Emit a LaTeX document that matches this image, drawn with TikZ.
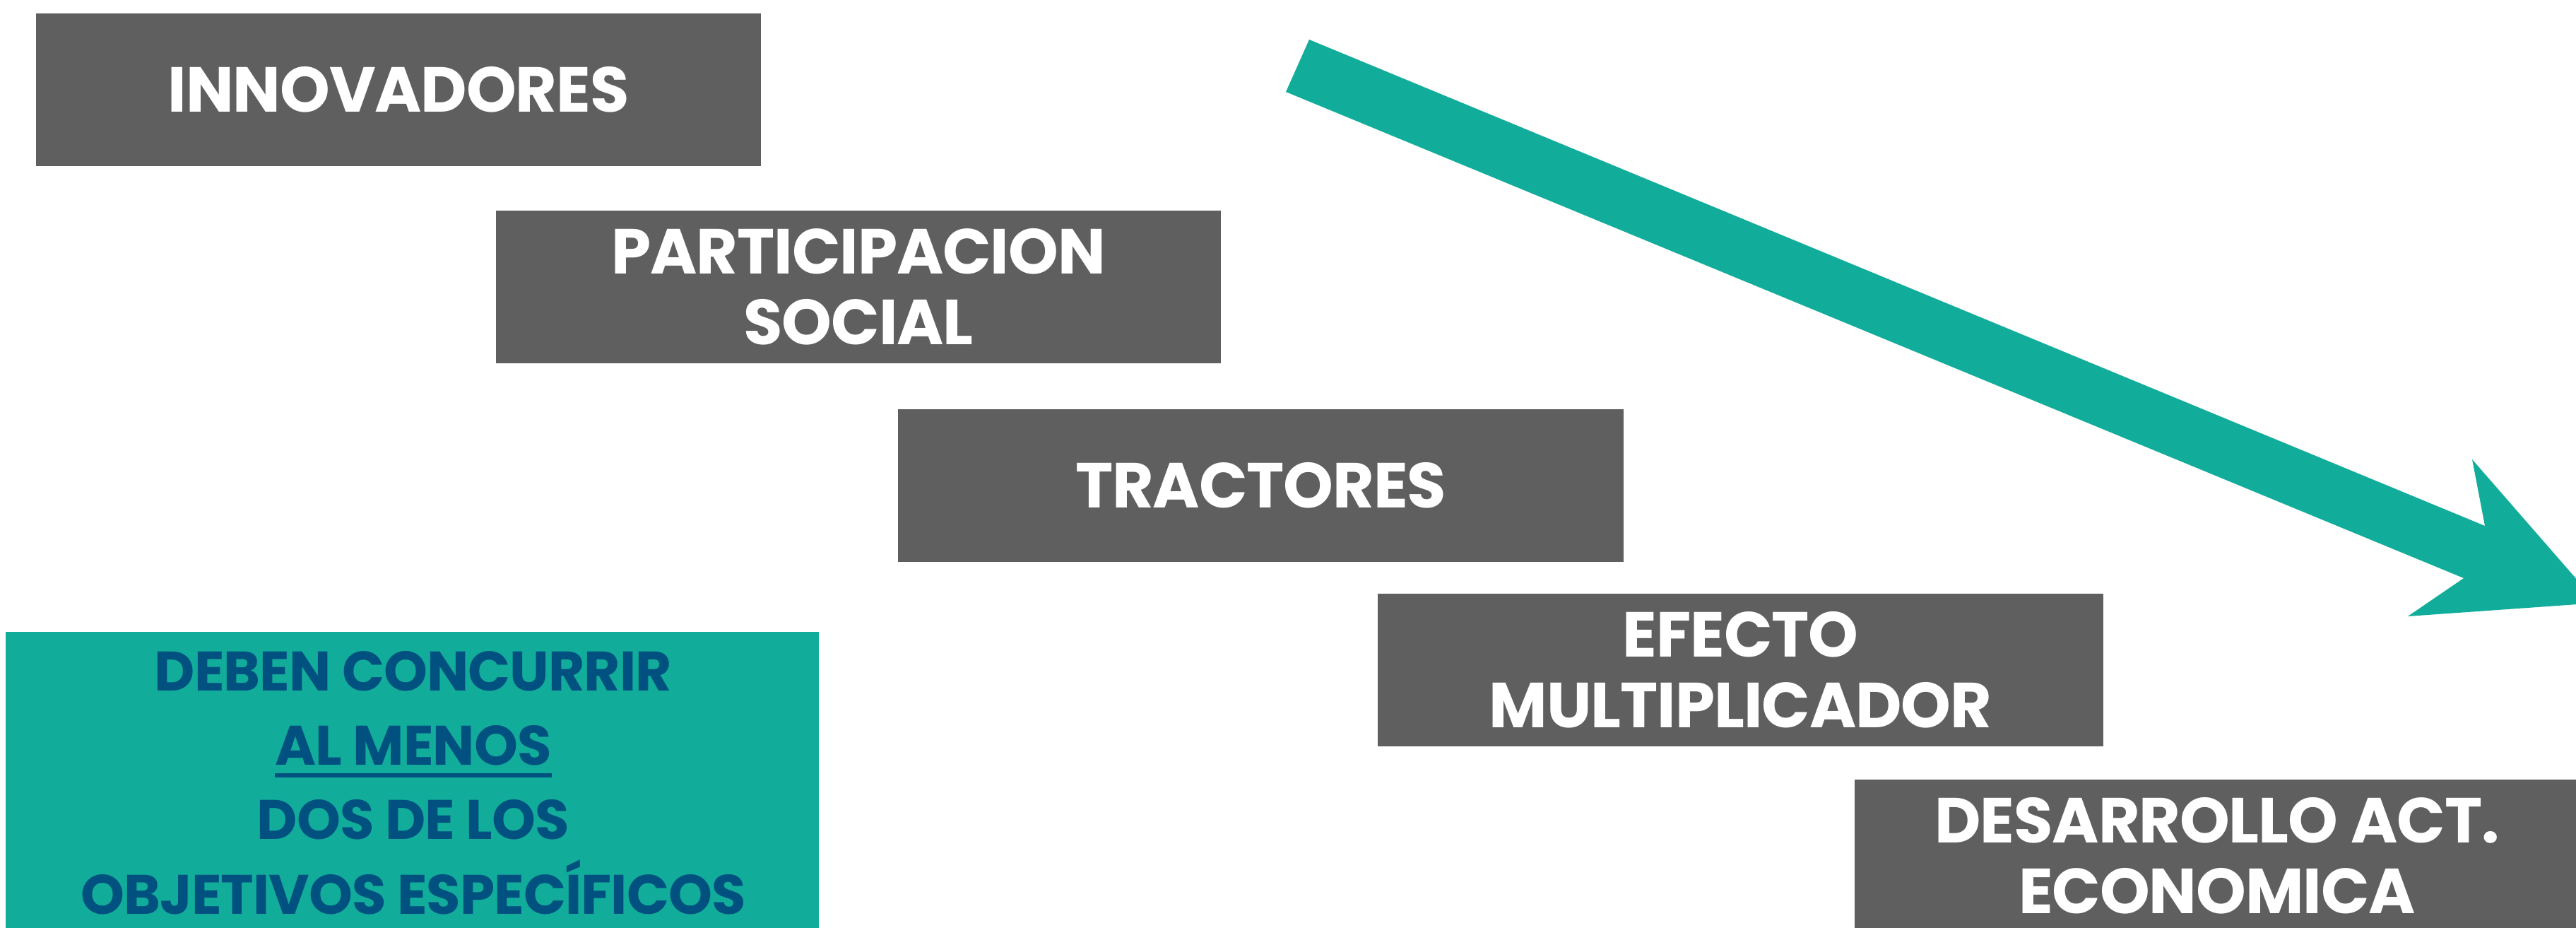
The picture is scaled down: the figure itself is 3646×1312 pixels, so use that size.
\documentclass[tikz,border=0pt]{standalone}
\usepackage{fontspec}
\newfontfamily\pop{Poppins}[LetterSpace=-1.2]
\definecolor{boxgray}{RGB}{95,95,95}
\definecolor{tealc}{RGB}{18,173,154}
\definecolor{navyc}{RGB}{0,80,128}
\newcommand\myul[1]{\leavevmode\setbox0=\hbox{#1}\rlap{\rule[-0.17cm]{\wd0}{0.06cm}}\box0}
\begin{document}
\begin{tikzpicture}[x=0.01cm,y=-0.01cm,
  graybox/.style={fill=boxgray, text=white, minimum width=10.26cm, minimum height=2.16cm,
    inner sep=0pt, align=center, font=\pop\bfseries\fontsize{25.6}{28.5}\selectfont},
  tealbox/.style={fill=tealc, minimum width=11.51cm, minimum height=4.5cm, inner sep=0pt},
  tealtext/.style={text=navyc, inner sep=0pt, align=center, font=\pop\bfseries\fontsize{22.4}{29.9}\selectfont}]
\useasboundingbox (0,0) rectangle (3646,1312);
\clip (0,0) rectangle (3646,1312);
\fill[tealc] (1853,56) -- (3517,744) -- (3499,650) -- (3676,853) -- (3408,872) -- (3487,818) -- (1820,130) -- cycle;
\node[graybox] (innov) at (564,127) {INNOVADORES};
\node[graybox] (part) at (1215,406) {PARTICIPACION\\SOCIAL};
\node[graybox] (tract) at (1784.5,687) {TRACTORES};
\node[graybox] (efecto) at (2463.5,948) {EFECTO\\MULTIPLICADOR};
\node[graybox] (desa) at (3138,1211) {DESARROLLO ACT.\\ECONOMICA};
\node[tealbox] (objbox) at (583.5,1119) {};
\node[tealtext] (objtext) at (585,1107.5) {DEBEN CONCURRIR\\\myul{AL MENOS}\\DOS DE LOS\\OBJETIVOS ESPECÍFICOS};
\end{tikzpicture}
\end{document}
